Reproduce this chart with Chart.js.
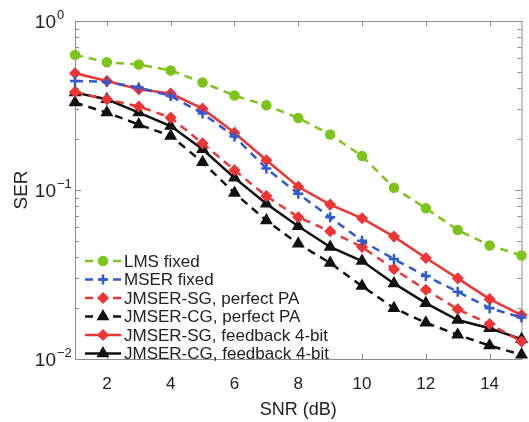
<!DOCTYPE html>
<html>
<head>
<meta charset="utf-8">
<script src="https://cdn.jsdelivr.net/npm/chart.js@4.4.1/dist/chart.umd.min.js"></script>
<style>
  html, body { margin: 0; padding: 0; background: #fff; }
  #wrap { width: 529px; height: 422px; }
</style>
</head>
<body>
<div id="wrap"><canvas id="serChart"></canvas></div>
<script>
// SNR points (dB)
var snr = [1, 2, 3, 4, 5, 6, 7, 8, 9, 10, 11, 12, 13, 14, 15];

// SER values
var lmsFixed      = [0.63, 0.57, 0.553, 0.51, 0.433, 0.362, 0.317, 0.267, 0.213, 0.159, 0.103, 0.078, 0.058, 0.047, 0.041];
var mserFixed     = [0.442, 0.436, 0.404, 0.36, 0.284, 0.207, 0.134, 0.095, 0.069, 0.050, 0.039, 0.031, 0.025, 0.020, 0.0176];
var sgPerfect     = [0.38, 0.344, 0.312, 0.268, 0.189, 0.131, 0.092, 0.069, 0.057, 0.046, 0.034, 0.0257, 0.0197, 0.0161, 0.0127];
var cgPerfect     = [0.329, 0.287, 0.244, 0.209, 0.146, 0.096, 0.066, 0.048, 0.037, 0.027, 0.020, 0.0164, 0.0139, 0.012, 0.0106];
var sgFeedback    = [0.491, 0.442, 0.395, 0.372, 0.303, 0.218, 0.150, 0.1045, 0.082, 0.068, 0.053, 0.0396, 0.030, 0.0226, 0.0182];
var cgFeedback    = [0.377, 0.344, 0.287, 0.239, 0.174, 0.118, 0.083, 0.061, 0.046, 0.038, 0.028, 0.0214, 0.017, 0.0152, 0.0131];

var xTicks = [2, 4, 6, 8, 10, 12, 14];
var yDecades = [1, 0.1, 0.01];
var yExponents = ['0', '\u22121', '\u22122'];

var green = '#7fc41e';
var blue = '#2f5bd0';
var red = '#ee3535';
var black = '#111111';

function pts(arr) {
    return arr.map(function (v, i) { return { x: snr[i], y: v }; });
}

function series(label, arr, color, dashed, style, radius) {
    return {
        label: label,
        data: pts(arr),
        borderColor: color,
        backgroundColor: color,
        pointBackgroundColor: color,
        pointBorderColor: color,
        borderWidth: 2.5,
        borderDash: dashed ? [8, 6] : [],
        pointStyle: style,
        pointRadius: radius,
        pointBorderWidth: style === 'cross' ? 2.5 : 1.5,
        tension: 0,
        clip: false
    };
}

var datasets = [
    series('LMS fixed', lmsFixed, green, true, 'circle', 4.5),
    series('MSER fixed', mserFixed, blue, true, 'cross', 5),
    series('JMSER-SG, perfect PA', sgPerfect, red, true, 'rectRot', 5),
    series('JMSER-CG, perfect PA', cgPerfect, black, true, 'triangle', 6),
    series('JMSER-SG, feedback 4-bit', sgFeedback, red, false, 'rectRot', 5),
    series('JMSER-CG, feedback 4-bit', cgFeedback, black, false, 'triangle', 6)
];

var frameColor = '#8c8c8c';
var textColor = '#222222';
var fontFamily = 'Arial, "Liberation Sans", sans-serif';

var framePlugin = {
    id: 'frame',
    beforeDatasetsDraw: function (chart) {
        var ctx = chart.ctx;
        var a = chart.chartArea;
        var xs = chart.scales.x;
        var ys = chart.scales.y;
        ctx.save();
        ctx.strokeStyle = frameColor;
        ctx.lineWidth = 1;
        ctx.strokeRect(a.left + 0.5, a.top + 0.5, a.right - a.left, a.bottom - a.top);
        ctx.beginPath();
        xTicks.forEach(function (t) {
            var px = Math.round(xs.getPixelForValue(t)) + 0.5;
            ctx.moveTo(px, a.bottom); ctx.lineTo(px, a.bottom - 5);
            ctx.moveTo(px, a.top); ctx.lineTo(px, a.top + 5);
        });
        // log ticks, major and minor
        [0.01, 0.1].forEach(function (d) {
            for (var m = 1; m <= 10; m++) {
                var py = Math.round(ys.getPixelForValue(d * m)) + 0.5;
                var len = (m === 1 || m === 10) ? 6 : 4;
                ctx.moveTo(a.left, py); ctx.lineTo(a.left + len, py);
                ctx.moveTo(a.right, py); ctx.lineTo(a.right - len, py);
            }
        });
        ctx.stroke();
        ctx.restore();
    },
    afterDraw: function (chart) {
        var ctx = chart.ctx;
        var ys = chart.scales.y;
        var a = chart.chartArea;
        ctx.save();
        ctx.fillStyle = textColor;
        // y tick labels with superscript exponents
        yDecades.forEach(function (d, i) {
            var py = ys.getPixelForValue(d);
            var baseRight = a.left - 19;
            ctx.font = '19px ' + fontFamily;
            ctx.textAlign = 'right';
            ctx.textBaseline = 'middle';
            ctx.fillText('10', baseRight, py + 2);
            ctx.font = '13px ' + fontFamily;
            ctx.textAlign = 'left';
            ctx.fillText(yExponents[i], baseRight + 1, py - 6);
        });
        // legend
        chart.data.datasets.forEach(function (ds, i) {
            var y = 261 + i * 18.5;
            ctx.save();
            ctx.strokeStyle = ds.borderColor;
            ctx.fillStyle = ds.borderColor;
            ctx.lineWidth = 2.5;
            ctx.setLineDash(ds.borderDash);
            ctx.beginPath();
            ctx.moveTo(85, y);
            ctx.lineTo(121, y);
            ctx.stroke();
            ctx.setLineDash([]);
            ctx.lineWidth = ds.pointBorderWidth;
            Chart.helpers.drawPoint(ctx, {
                pointStyle: ds.pointStyle,
                radius: ds.pointRadius,
                borderWidth: ds.pointBorderWidth
            }, 103, y);
            ctx.restore();
            ctx.font = '17px ' + fontFamily;
            ctx.textAlign = 'left';
            ctx.textBaseline = 'middle';
            ctx.fillStyle = textColor;
            ctx.fillText(ds.label, 124, y + 1);
        });
        ctx.restore();
    }
};

var canvas = document.getElementById('serChart');

var serChart = new Chart(canvas, {
    type: 'line',
    data: { datasets: datasets },
    options: {
        responsive: true,
        maintainAspectRatio: false,
        animation: false,
        layout: { padding: { top: 21, right: 4, left: 4, bottom: 0 } },
        plugins: {
            legend: { display: false },
            tooltip: { enabled: false }
        },
        scales: {
            x: {
                type: 'linear',
                min: 1,
                max: 15,
                afterBuildTicks: function (s) {
                    s.ticks = xTicks.map(function (v) { return { value: v }; });
                },
                afterFit: function (s) { s.height = 63; },
                grid: { display: false, drawTicks: false },
                border: { display: false },
                ticks: {
                    color: textColor,
                    font: { family: fontFamily, size: 17 },
                    padding: 15,
                    maxRotation: 0
                },
                title: {
                    display: true,
                    text: 'SNR (dB)',
                    color: textColor,
                    font: { family: fontFamily, size: 18 },
                    padding: { top: 0, bottom: 1 }
                }
            },
            y: {
                type: 'logarithmic',
                min: 0.01,
                max: 1,
                grid: { display: false, drawTicks: false },
                border: { display: false },
                ticks: { display: false },
                afterFit: function (s) { s.width = 71; },
                title: {
                    display: true,
                    text: 'SER',
                    color: textColor,
                    font: { family: fontFamily, size: 19 },
                    padding: { top: 6, bottom: 0 }
                }
            }
        }
    },
    plugins: [framePlugin]
});
</script>
</body>
</html>
